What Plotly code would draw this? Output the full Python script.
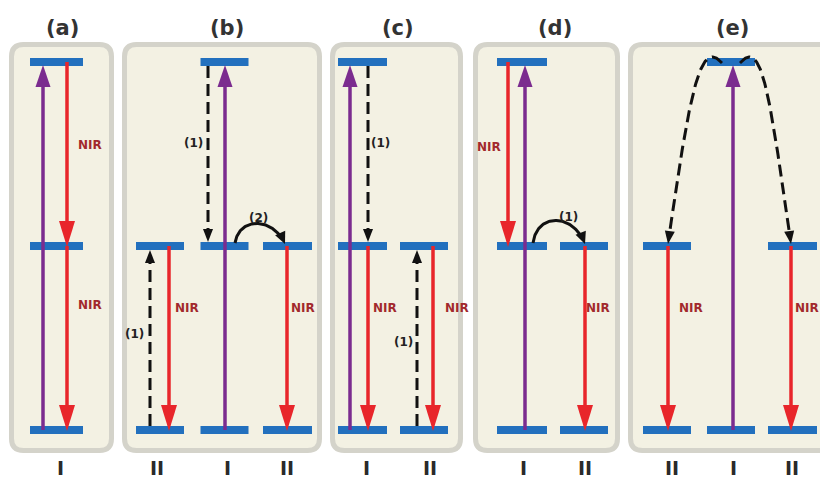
import numpy as np
import plotly.graph_objects as go

# ---------------- data ----------------
panel_titles = ["(a)", "(b)", "(c)", "(d)", "(e)"]

# ion columns (one column = one ion's ladder of levels)
col_panel = [0, 1, 1, 1, 2, 2, 3, 3, 4, 4, 4]
col_labels = ["I", "II", "I", "II", "I", "II", "I", "II", "II", "I", "II"]
col_levels = [[0, 1, 2], [0, 1], [0, 1, 2], [0, 1], [0, 1, 2], [0, 1],
              [0, 1, 2], [0, 1], [0, 1], [0, 2], [0, 1]]

# straight transitions: kind, column, from level, to level
tr_kind = ["abs", "nir", "nir",
           "abs", "relax", "relax", "nir", "nir",
           "abs", "relax", "nir", "relax", "nir",
           "nir", "abs", "nir",
           "abs", "nir", "nir"]
tr_col = [0, 0, 0, 2, 2, 1, 1, 3, 4, 4, 4, 5, 5, 6, 6, 7, 9, 8, 10]
tr_from = [0, 2, 1, 0, 2, 0, 1, 1, 0, 2, 1, 0, 1, 2, 0, 1, 0, 1, 1]
tr_to = [2, 1, 0, 2, 1, 1, 0, 0, 2, 1, 0, 1, 0, 1, 2, 0, 2, 0, 0]

# energy transfer (solid curved arrows) between columns on level 1
et_from = [2, 6]
et_to = [3, 7]
et_label = ["(2)", "(1)"]

# cross relaxation (dashed curves) in (e): level 2 of col -> level 1 of col
cr_from = [9, 9]
cr_to = [8, 10]

# text labels
nir_text = "NIR"
step_text = ["(1)", "(1)", "(1)", "(1)"]

# ---------------- layout parameters (pixels) ----------------
W, H = 820, 482
K, Y0 = 184.0, 430.0          # px per energy unit, px of level 0


def p2e(p):
    return (Y0 - np.asarray(p, dtype=float)) / K


def e2p(e):
    return Y0 - K * np.asarray(e, dtype=float)


col_x = [56.5, 160, 224.5, 287.5, 362.5, 424, 522, 584, 667, 731, 792.5]
col_hw = [26.5, 24, 24, 24.5, 24.5, 24, 25, 24, 24, 24, 24.5]
tr_dx = [-13.5, 10.5, 10.5, 0.5, -16.5, -10, 9, -0.5,
         -12.5, 5.5, 5.5, -7, 9, -14, 3, 1, 2, 1, -1.5]
et_dx0 = [10.5, 11]
et_dx1 = [-2.5, 1]
et_h = [15, 18]
box_x0 = [9, 122, 330, 473, 628]
box_x1 = [114, 322, 463, 620, 845]
title_x = [62, 227, 398, 555, 732]
label_x = [60, 157, 227, 287, 366, 430, 523, 585, 672, 733, 792]
nir_x = [90, 90, 187, 303, 385, 457, 489, 598, 691, 807]
nir_y = [145, 305, 308, 308, 308, 308, 147, 308, 308, 308]
step_x = [193, 134, 380, 403]
step_y = [143, 334, 143, 342]
et_lab_x = [258, 568]
et_lab_y = [218, 217]

BOX_FILL = "#F3F1E3"
BOX_LINE = "#D4D3CA"
BLUE = "#2270BE"
PURPLE = "#7B2C8F"
RED = "#E8262B"
BLACK = "#111111"
NIRC = "#A2292D"
FONT = "DejaVu Sans"

style = {
    "abs": dict(color=PURPLE, width=3.5, dash="solid", L=22, hw=7.5),
    "nir": dict(color=RED, width=3.5, dash="solid", L=26, hw=8),
    "relax": dict(color=BLACK, width=3, dash="12px,6px", L=13, hw=5),
}

fig = go.Figure()
shapes = []

# panel boxes
for x0, x1 in zip(box_x0, box_x1):
    x0, x1 = x0 + 2.5, x1 - 2.5
    t, b, r = p2e(44.5), p2e(450.5), 12
    rt, rb = p2e(44.5 + r), p2e(450.5 - r)
    path = (f"M{x0 + r},{t} L{x1 - r},{t} Q{x1},{t} {x1},{rt} L{x1},{rb} "
            f"Q{x1},{b} {x1 - r},{b} L{x0 + r},{b} Q{x0},{b} {x0},{rb} "
            f"L{x0},{rt} Q{x0},{t} {x0 + r},{t} Z")
    shapes.append(dict(type="path", path=path, xref="x", yref="y",
                       fillcolor=BOX_FILL, line=dict(color=BOX_LINE, width=5),
                       layer="below"))

# energy level bars
for c, lv in enumerate(col_levels):
    for e in lv:
        py = e2p(e)
        shapes.append(dict(type="rect", xref="x", yref="y",
                           x0=col_x[c] - col_hw[c], x1=col_x[c] + col_hw[c],
                           y0=p2e(py + 4), y1=p2e(py - 4),
                           fillcolor=BLUE, line=dict(width=0), layer="below"))


def head(tip, d, L, hw, color):
    d = np.asarray(d, float)
    d = d / np.hypot(*d)
    n = np.array([-d[1], d[0]])
    base = np.asarray(tip) - L * d
    v1, v2 = base + hw * n, base - hw * n
    xs = [tip[0], v1[0], v2[0], tip[0]]
    ys = [tip[1], v1[1], v2[1], tip[1]]
    fig.add_trace(go.Scatter(x=xs, y=p2e(ys), mode="lines", fill="toself",
                             fillcolor=color, line=dict(width=0, color=color),
                             hoverinfo="skip", showlegend=False))


def shaft(xs, ys, st):
    fig.add_trace(go.Scatter(x=xs, y=p2e(ys), mode="lines",
                             line=dict(color=st["color"], width=st["width"],
                                       dash=st["dash"]),
                             hoverinfo="skip", showlegend=False))


# straight transitions
for k, c, e0, e1, dx in zip(tr_kind, tr_col, tr_from, tr_to, tr_dx):
    st = style[k]
    x = col_x[c] + dx
    p0, p1 = float(e2p(e0)), float(e2p(e1))
    sgn = 1 if p1 > p0 else -1            # +1: downward on screen
    if k == "abs":
        tip = p1 + 3
        start = p0
    elif k == "nir":
        tip = p1 + 1
        start = p0
    else:
        tip = p1 - 4 * sgn
        start = p0 + 4 * sgn
    base = tip - sgn * st["L"] * 0.85
    shaft([x, x], [start, base], st)
    head((x, tip), (0, sgn), st["L"], st["hw"], st["color"])


def bez(P, n=80):
    t = np.linspace(0, 1, n)[:, None]
    P = [np.asarray(p, float) for p in P]
    return ((1 - t) ** 3 * P[0] + 3 * (1 - t) ** 2 * t * P[1]
            + 3 * (1 - t) * t ** 2 * P[2] + t ** 3 * P[3])


def curve_arrow(P, st):
    pts = bez(P)
    tip = pts[-1]
    d = np.asarray(P[3], float) - np.asarray(P[2], float)
    dist = np.hypot(*(pts - tip).T)
    keep = pts[dist > st["L"] * 0.85]
    shaft(keep[:, 0], keep[:, 1], st)
    head(tip, d, st["L"], st["hw"], st["color"])


# energy transfer arcs
arc_style = dict(color=BLACK, width=3, dash="solid", L=12, hw=5.5)
for f, t_, dx0, dx1, h in zip(et_from, et_to, et_dx0, et_dx1, et_h):
    py = float(e2p(1))
    xa, xb = col_x[f] + dx0, col_x[t_] + dx1
    P = [(xa, py - 3), (xa + 4, py - 9 - 1.35 * h),
         (xb - 12, py - 9 - 1.35 * h), (xb, py - 2)]
    curve_arrow(P, arc_style)

# cross relaxation dashed curves
cr_style = dict(color=BLACK, width=3, dash="12px,6px", L=13, hw=5)
for f, t_ in zip(cr_from, cr_to):
    top = float(e2p(2))
    mid = float(e2p(1))
    s = np.sign(col_x[t_] - col_x[f])
    x0 = col_x[f] + s * 9
    x3 = col_x[t_] + (1 if s < 0 else -1.5)
    P = [(x0, top + 1), (x0 + s * 22, top - 24), (x3 - s * 22, top + 28),
         (x3, mid - 2)]
    curve_arrow(P, cr_style)

# ---------------- text ----------------
ann = []
for tx, txt in zip(title_x, panel_titles):
    ann.append(dict(x=tx, y=float(p2e(28)), text=f"<b>{txt}</b>",
                    font=dict(family=FONT, size=21, color="#333333")))
for lx, txt in zip(label_x, col_labels):
    ann.append(dict(x=lx, y=float(p2e(468)), text=f"<b>{txt}</b>",
                    font=dict(family=FONT, size=19, color="#2a2a2a")))
for nx, ny in zip(nir_x, nir_y):
    ann.append(dict(x=nx, y=float(p2e(ny)), text=f"<b>{nir_text}</b>",
                    font=dict(family=FONT, size=12, color=NIRC)))
for sx, sy, txt in zip(step_x, step_y, step_text):
    ann.append(dict(x=sx, y=float(p2e(sy)), text=f"<b>{txt}</b>",
                    font=dict(family=FONT, size=12, color="#222222")))
for sx, sy, txt in zip(et_lab_x, et_lab_y, et_label):
    ann.append(dict(x=sx, y=float(p2e(sy)), text=f"<b>{txt}</b>",
                    font=dict(family=FONT, size=12, color="#222222")))
for a in ann:
    a.update(xref="x", yref="y", showarrow=False, xanchor="center",
             yanchor="middle")

fig.update_layout(
    width=W, height=H, autosize=False,
    margin=dict(l=0, r=0, t=0, b=0, pad=0),
    paper_bgcolor="white", plot_bgcolor="white",
    shapes=shapes, annotations=ann, showlegend=False,
    xaxis=dict(range=[0, W], visible=False, fixedrange=True),
    yaxis=dict(range=[float(p2e(H)), float(p2e(0))], visible=False,
               fixedrange=True),
)
fig.write_html(
    "out.html",
    config={"displayModeBar": False},
    post_script="document.body.style.margin='0';"
                "document.body.style.overflow='hidden';",
)
